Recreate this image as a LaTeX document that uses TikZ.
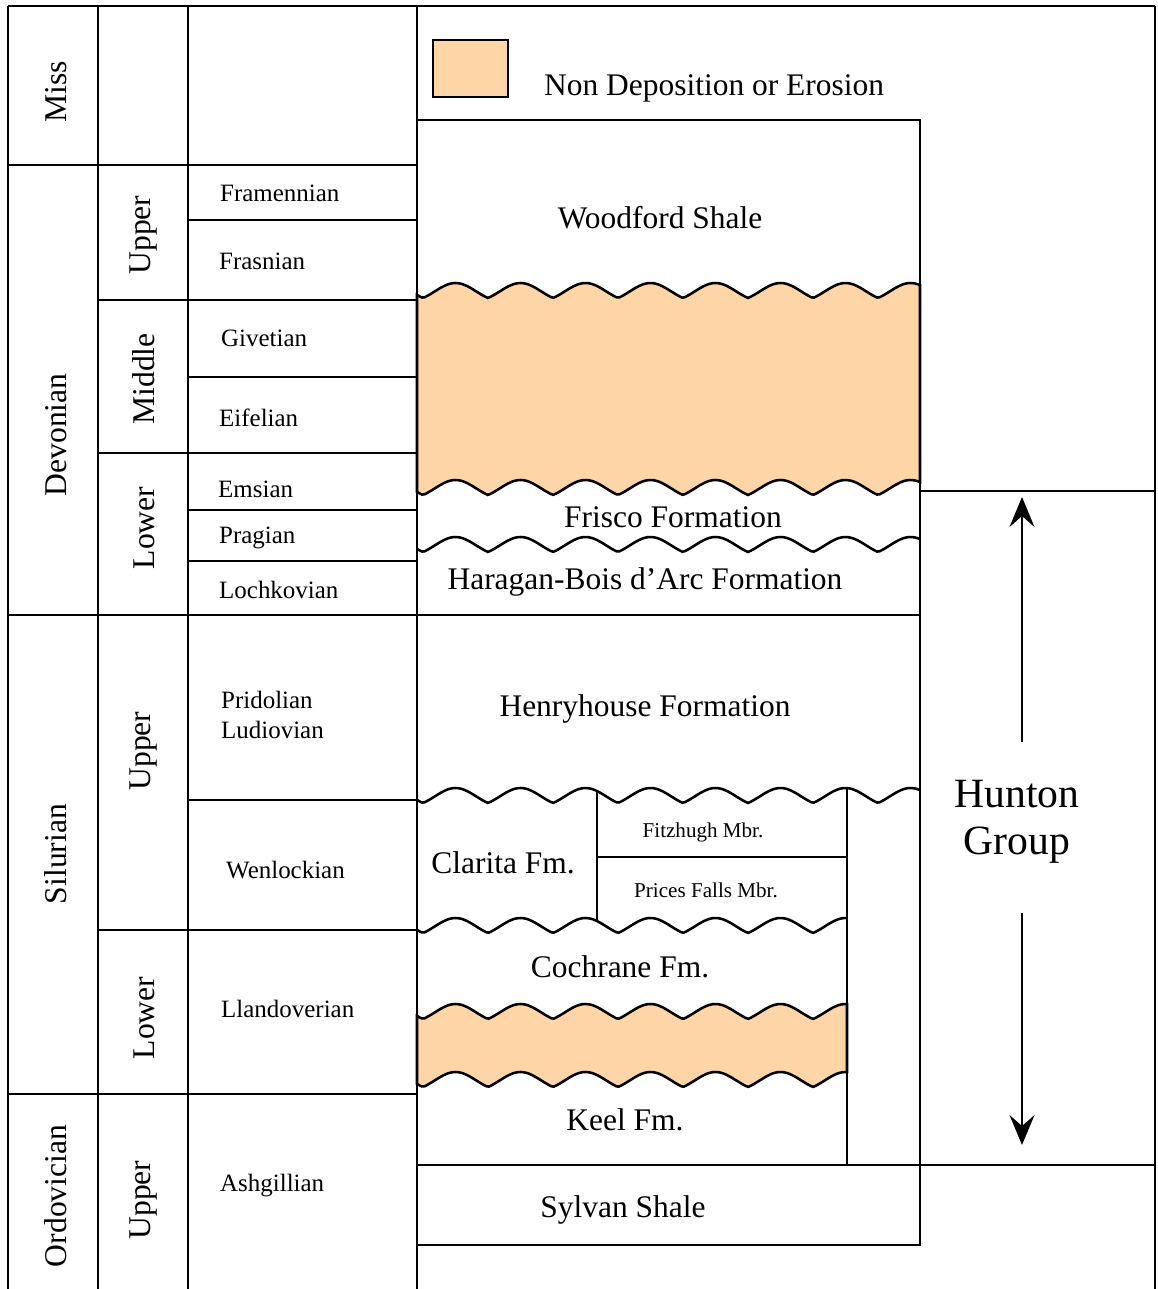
\documentclass[tikz,border=0pt]{standalone}
\usepackage{fontspec}
\setmainfont{Liberation Serif}
\usetikzlibrary{arrows.meta}
\definecolor{gapfill}{RGB}{253,213,166}
% wavy unconformity: height at x=#1 for troughs at y=#2
\pgfmathdeclarefunction{wavey}{2}{%
  \pgfmathparse{#2-15*(0.6*abs(sin(2.76923*(#1-423)))+0.4*(sin(2.76923*(#1-423)))^2)}}
\tikzset{
  rule/.style={line width=1.45pt},
  period/.style={rotate=90,font=\fontsize{18}{20}\selectfont},
  stage/.style={anchor=west,align=left,font=\fontsize{14.2}{17}\selectfont},
  fmname/.style={font=\fontsize{17.9}{20}\selectfont},
  mbrname/.style={font=\fontsize{12}{14}\selectfont},
  hgarrow/.style={line width=1.2pt,-{Stealth[length=6mm,width=5mm,inset=2.2mm]}}
}
\begin{document}
\begin{tikzpicture}[x=0.2mm,y=-0.2mm]
\useasboundingbox (0,0) rectangle (1157,1289);

% erosion fills
\filldraw[rule,fill=gapfill] plot[domain=417:920,samples=200] (\x,{wavey(\x,298)})
  -- plot[domain=920:417,samples=200] (\x,{wavey(\x,495)}) -- cycle;
\filldraw[rule,fill=gapfill] plot[domain=417:847,samples=180] (\x,{wavey(\x,1019)})
  -- plot[domain=847:417,samples=180] (\x,{wavey(\x,1087)}) -- cycle;

% frame and columns
\draw[rule] (8,6) -- (1155,6);
\foreach \xc in {8,98,188,417,1155}
  \draw[rule] (\xc,6) -- (\xc,1289);

% time scale rows
\draw[rule] (8,165) -- (417,165);
\draw[rule] (188,220) -- (417,220);
\draw[rule] (98,300) -- (417,300);
\draw[rule] (188,377) -- (417,377);
\draw[rule] (98,453) -- (417,453);
\draw[rule] (188,510) -- (417,510);
\draw[rule] (188,561) -- (417,561);
\draw[rule] (8,615) -- (920,615);
\draw[rule] (188,800) -- (417,800);
\draw[rule] (98,930) -- (417,930);
\draw[rule] (8,1094) -- (417,1094);

% formation column
\draw[rule] (417,120) -- (920,120) -- (920,1245) -- (417,1245);
\draw[rule] (920,491) -- (1155,491);
\draw[rule] (417,1165) -- (1155,1165);
\draw[rule] plot[domain=417:920,samples=200] (\x,{wavey(\x,552)});
\draw[rule] plot[domain=417:920,samples=200] (\x,{wavey(\x,803)});
\draw[rule] plot[domain=417:847,samples=180] (\x,{wavey(\x,933)});
\draw[rule] (847,788) -- (847,1165);
\draw[rule] (597,792) -- (597,922);
\draw[rule] (597,857) -- (847,857);

% legend
\node[draw,rule,fill=gapfill,minimum width=15mm,minimum height=11.4mm,inner sep=0] (legbox) at (470.5,68.5) {};
\node[fmname,anchor=west] (legtext) at (538,88) {Non Deposition or Erosion};

% periods and epochs
\node[period] (miss) at (56,92) {Miss};
\node[period] (devonian) at (56,435) {Devonian};
\node[period] (silurian) at (56,854) {Silurian};
\node[period] (ordovician) at (56,1196) {Ordovician};
\node[period] (devup) at (144,235) {Upper};
\node[period] (devmid) at (144,379) {Middle};
\node[period] (devlow) at (144,528) {Lower};
\node[period] (silup) at (144,751) {Upper};
\node[period] (sillow) at (144,1018) {Lower};
\node[period] (ordup) at (144,1200) {Upper};

% stages
\node[stage] (framennian) at (214,193) {Framennian};
\node[stage] (frasnian) at (213,261) {Frasnian};
\node[stage] (givetian) at (215,338) {Givetian};
\node[stage] (eifelian) at (213,418) {Eifelian};
\node[stage] (emsian) at (212,489) {Emsian};
\node[stage] (pragian) at (213,538) {Pragian};
\node[stage] (lochkovian) at (213,590) {Lochkovian};
\node[stage] (pridolian) at (215,715) {Pridolian\\Ludiovian};
\node[stage] (wenlockian) at (220,870) {Wenlockian};
\node[stage] (llandoverian) at (215,1009) {Llandoverian};
\node[stage] (ashgillian) at (214,1186) {Ashgillian};

% formations
\node[fmname] (woodford) at (660,218) {Woodford Shale};
\node[fmname] (frisco) at (673,517) {Frisco Formation};
\node[fmname] (haragan) at (645,582) {Haragan-Bois d'Arc Formation};
\node[fmname] (henryhouse) at (645,709) {Henryhouse Formation};
\node[fmname] (clarita) at (503,863) {Clarita Fm.};
\node[mbrname] (fitzhugh) at (703,832) {Fitzhugh Mbr.};
\node[mbrname] (pricesfalls) at (706,890) {Prices Falls Mbr.};
\node[fmname] (cochrane) at (620,967) {Cochrane Fm.};
\node[fmname] (keel) at (625,1120) {Keel Fm.};
\node[fmname] (sylvan) at (623,1210) {Sylvan Shale};

% Hunton Group span
\node[align=center,inner sep=0,font=\fontsize{23.7}{27}\selectfont] (hunton) at (1017,822) {Hunton\\Group};
\coordinate (hgtop) at (1022,497);
\coordinate (hgbot) at (1022,1145);
\draw[hgarrow] ([yshift=7.6mm]hunton.north -| hgtop) -- (hgtop);
\draw[hgarrow] ([yshift=-9.8mm]hunton.south -| hgbot) -- (hgbot);
\end{tikzpicture}
\end{document}
